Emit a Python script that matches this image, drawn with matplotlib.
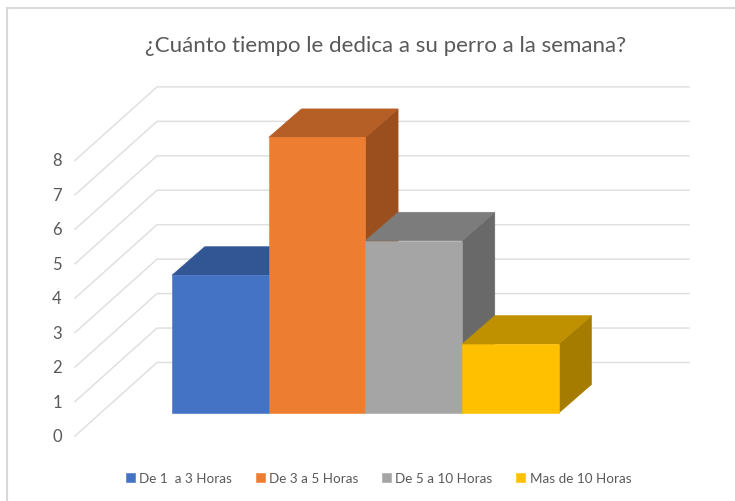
"""
Barras 3D (estilo Excel) dibujadas con polígonos sobre un eje 2D oblicuo.
"""

import matplotlib
matplotlib.use('Agg')
import matplotlib.pyplot as plt
from matplotlib.lines import Line2D
from matplotlib.patches import Polygon

plt.rcParams['font.family'] = ['Lato', 'DejaVu Sans']

# ---------------------------
# Datos
# ---------------------------
titulo = '¿Cuánto tiempo le dedica a su perro a la semana?'
categorias = ['De 1  a 3 Horas', 'De 3 a 5 Horas', 'De 5 a 10 Horas', 'Mas de 10 Horas']
valores = [4, 8, 5, 2]
ticks_y = [0, 1, 2, 3, 4, 5, 6, 7, 8]

# ---------------------------
# Estilo y geometría
# ---------------------------
colores_frente = ['#4472C4', '#ED7D31', '#A5A5A5', '#FFC000']
colores_arriba = ['#325694', '#B55E25', '#7C7C7C', '#BF9000']
colores_lado = ['#2A4A80', '#9C4F1E', '#696969', '#A67C00']
color_rejilla = '#E0E0E0'
color_texto = '#595959'

W, H = 735, 502
px_x = 96.7   # ancho de una barra en pixeles
px_y = 34.45  # pixeles por unidad
x0, y0 = 172, 414   # origen del plano frontal de las barras

# profundidad de la barra y posición de las paredes, en unidades de datos
prof_x, prof_y = 32.7 / px_x, 28.5 / px_y
pared_izq = (75 - x0) / px_x
pared_fondo = (157 - x0) / px_x
pared_der = (689 - x0) / px_x
piso_frente = (y0 - 437) / px_y
piso_fondo = (y0 - 363.5) / px_y

fig = plt.figure(figsize=(W / 100, H / 100), dpi=100)
ax = fig.add_axes([0, 0, 1, 1])
ax.set_xlim(-x0 / px_x, (W - x0) / px_x)
ax.set_ylim((y0 - H) / px_y, y0 / px_y)
ax.axis('off')

# ---------------------------
# Paredes y rejilla
# ---------------------------
for t in ticks_y:
    ax.plot([pared_izq, pared_fondo, pared_der],
            [t + piso_frente, t + piso_fondo, t + piso_fondo],
            color=color_rejilla, linewidth=1.1, solid_joinstyle='miter', zorder=1)
    ax.text(pared_izq - 0.186, t + piso_frente, str(t), ha='center', va='center',
            fontsize=12, color=color_texto)

# ---------------------------
# Barras
# ---------------------------
handles = []
for i, v in enumerate(valores):
    z = 2 + i
    frente = Polygon([(i, 0), (i + 1, 0), (i + 1, v), (i, v)], facecolor=colores_frente[i],
                     edgecolor=colores_frente[i], linewidth=0.4, zorder=z + 0.2)
    arriba = Polygon([(i, v), (i + 1, v), (i + 1 + prof_x, v + prof_y), (i + prof_x, v + prof_y)],
                     facecolor=colores_arriba[i], edgecolor=colores_arriba[i], linewidth=0.4, zorder=z)
    lado = Polygon([(i + 1, 0), (i + 1 + prof_x, prof_y), (i + 1 + prof_x, v + prof_y), (i + 1, v)],
                   facecolor=colores_lado[i], edgecolor=colores_lado[i], linewidth=0.4, zorder=z)
    ax.add_patch(lado)
    ax.add_patch(arriba)
    ax.add_patch(frente)
    handles.append(frente)

# ---------------------------
# Textos y marco
# ---------------------------
fig.text(385.7 / W, 1 - 51.5 / H, titulo, ha='center', va='baseline', fontsize=16, color=color_texto)

ax.legend(handles, categorias, loc='center', bbox_to_anchor=(378.5 / W, 1 - 479 / H), ncol=4,
          frameon=False, fontsize=9.75, labelcolor=color_texto, handlelength=0.68, handleheight=0.68,
          handletextpad=0.3, columnspacing=1.75, borderpad=0, borderaxespad=0)

fig.add_artist(Line2D([7 / W, 7 / W, 1], [0, 1 - 8.5 / H, 1 - 8.5 / H],
                      color='#D9D9D9', linewidth=1.5, solid_joinstyle='miter'))

plt.savefig('out.png', dpi=100)
